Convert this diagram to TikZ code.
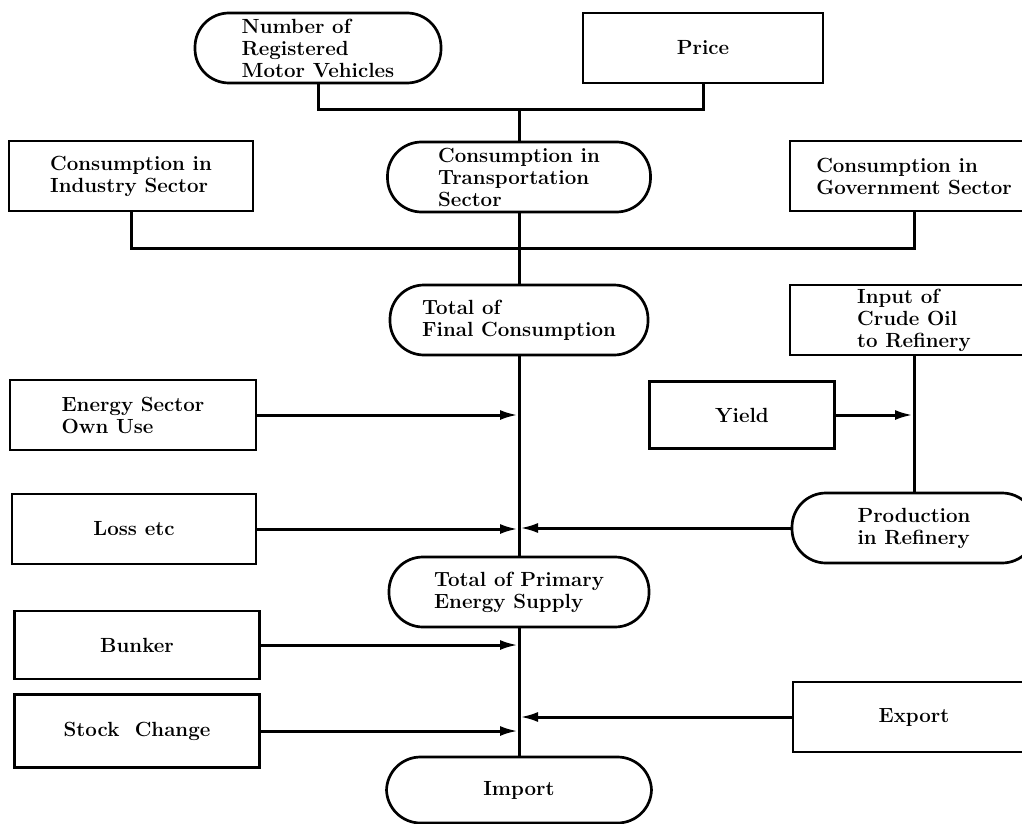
\documentclass[tikz,border=0pt]{standalone}
\usetikzlibrary{arrows.meta}
\begin{document}
\begin{tikzpicture}[x=1pt,y=-1pt,
  every node/.style={font=\fontsize{20.5}{22}\selectfont\bfseries, align=left, inner sep=0pt},
  box/.style={draw, line width=2.7pt, minimum height=70pt},
  pill/.style={draw, line width=2.7pt, rounded corners=34pt, minimum height=70pt},
  link/.style={line width=3pt},
  feed/.style={line width=3pt, -{Latex[length=18pt,width=10pt]}, shorten >=1pt}]
\useasboundingbox (0,0) rectangle (1022,824);
\fill[white] (0,0) rectangle (1022,824);
\clip (0,0) rectangle (1022,824);

% demand side
\node[pill, minimum width=246pt] (vehicles) at (318,48) {Number of\\Registered\\Motor Vehicles};
\node[box, minimum width=240pt] (price) at (703,48) {Price};
\node[box, minimum width=244pt] (industry) at (131,176) {Consumption in\\Industry Sector};
\node[pill, minimum width=263pt] (transport) at (519,177) {Consumption in\\Transportation\\Sector};
\node[box, minimum width=248pt] (government) at (914,176) {Consumption in\\Government Sector};
\node[pill, minimum width=258pt] (finalc) at (519,320) {Total of\\Final Consumption};

% refinery branch
\node[box, minimum width=248pt] (crude) at (914,320) {Input of\\Crude Oil\\to Refinery};
\node[box, minimum width=185pt, minimum height=67pt] (yield) at (742,415) {Yield};
\node[pill, minimum width=244pt] (refinery) at (914,528) {Production\\in Refinery};

% adjustments
\node[box, minimum width=246pt] (ownuse) at (133,415) {Energy Sector\\Own Use};
\node[box, minimum width=244pt] (loss) at (134,529) {Loss etc};
\node[pill, minimum width=260pt] (primary) at (519,592) {Total of Primary\\Energy Supply};
\node[box, minimum width=245pt, minimum height=68pt] (bunker) at (137,645) {Bunker};
\node[box, minimum width=245pt, minimum height=73pt] (stock) at (137,731) {Stock\ \ Change};
\node[box, minimum width=242pt] (export) at (914,717) {Export};
\node[pill, minimum width=265pt, minimum height=66pt] (import) at (519,790) {Import};

% bus lines
\coordinate (topbus) at (519,110);
\coordinate (midbus) at (519,248);
\draw[link] (vehicles.south) |- (topbus) -| (price.south);
\draw[link] (topbus) -- (transport.north);
\draw[link] (industry.south) |- (midbus) -| (government.south);
\draw[link] (transport.south) -- (finalc.north);
\draw[link] (finalc.south) -- (primary.north);
\draw[link] (primary.south) -- (import.north);
\draw[link] (crude.south) -- (refinery.north);

% flows into the trunk
\draw[feed] (ownuse.east) -- (ownuse.east -| finalc.south);
\draw[feed] (yield.east) -- (yield.east -| crude.south);
\draw[feed] (loss.east) -- (loss.east -| finalc.south);
\draw[feed] (refinery.west) -- (refinery.west -| finalc.south);
\draw[feed] (bunker.east) -- (bunker.east -| primary.south);
\draw[feed] (stock.east) -- (stock.east -| primary.south);
\draw[feed] (export.west) -- (export.west -| primary.south);
\end{tikzpicture}
\end{document}
